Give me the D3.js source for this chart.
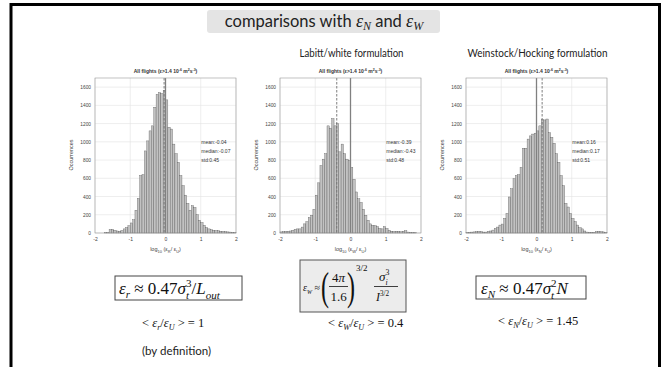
<!DOCTYPE html>
<html><head><meta charset="utf-8">
<script src="https://cdn.jsdelivr.net/npm/d3@7"></script>
<style>body{margin:0;background:#fff} text{white-space:pre}</style>
</head><body><svg id="c" width="669" height="367"></svg>
<script>
// ---- data ----
const binStart = -2;
const binWidth = 1 / 15;
const countsR = [0,0,0,0,2,5, 38,40,30, 22,20,28, 45,60,80, 110,145,250, 380,630,640, 900,1010,1120,
  1175,1380,1520, 1540,1530,1565, 1460,1160,1140, 975,870,775, 630,520,415, 325,250,300,
  280,200,140, 115,85,60, 45,35,30, 28,25,20, 18,15,12, 10,5,3];
const countsW = [12,15,18,20,22,30, 40,45,45, 65,100,125, 170,195,260, 415,550,740, 810,870,1175,
  1150,1255,1175, 1200,890,975, 870,810,795, 720,590,450, 375,335,260, 195,140,100, 85,80,70,
  50,45,70, 50,30,20, 18,20,18, 15,20,25, 10,5,3, 2,0,0];
const countsN = [5,8,10,12,15,18, 15,10,10, 18,22,32, 50,65,87, 98,160,215, 395,485,595, 630,640,720,
  930,930,1030, 1065,1085,1095, 1120,1175,1245, 1240,1250,1100, 1050,985,870, 775,630,520,
  325,285,215, 160,125,87, 58,45,22, 10,8,7, 7,15,18, 15,12,5];
const xTicks = [-2, -1, 0, 1, 2];
const yTicks = [0, 200, 400, 600, 800, 1000, 1200, 1400, 1600];
const means = [-0.04, -0.39, 0.16];
const statsR = ["mean:-0.04", "median:-0.07", "std:0.45"];
const statsW = ["mean:-0.39", "median:-0.43", "std:0.48"];
const statsN = ["mean:0.16", "median:0.17", "std:0.51"];
const subs = ["R", "W", "N"];
const headings = ["", "Labitt/white formulation", "Weinstock/Hocking formulation"];

// ---- drawing ----
const svg = d3.select("#c");
svg.append("rect").attr("width", 669).attr("height", 367).attr("fill", "#fff");
svg.append("path").attr("d", "M11,367 V4.5 H659.5 V367").attr("fill", "none")
  .attr("stroke", "#000").attr("stroke-width", 3);

svg.append("rect").attr("x", 207).attr("y", 10).attr("width", 233).attr("height", 23)
  .attr("rx", 3).attr("fill", "#e4e4e4");
const tt = svg.append("text").attr("x", 324).attr("y", 27).attr("text-anchor", "middle")
  .attr("font-family", "Lato, 'Open Sans', sans-serif").attr("font-size", 16.5).attr("fill", "#222");
tt.append("tspan").text("comparisons with ");
tt.append("tspan").attr("font-family", "'Liberation Serif', serif").attr("font-style", "italic").attr("font-size", 18).text("ε");
tt.append("tspan").attr("font-family", "'Liberation Serif', serif").attr("font-style", "italic").attr("font-size", 12).attr("dy", 3).text("N");
tt.append("tspan").attr("dy", -3).text(" and ");
tt.append("tspan").attr("font-family", "'Liberation Serif', serif").attr("font-style", "italic").attr("font-size", 18).text("ε");
tt.append("tspan").attr("font-family", "'Liberation Serif', serif").attr("font-style", "italic").attr("font-size", 12).attr("dy", 3).text("W");

const panels = [
  {left: 95, counts: countsR, stats: statsR},
  {left: 280, counts: countsW, stats: statsW},
  {left: 466, counts: countsN, stats: statsN}
];
const headW = [0, 104, 140];
const pw = 141, pTop = 78, pBot = 233;
const y = d3.scaleLinear().domain([0, 1700]).range([pBot, pTop]);
const AX = "Arial, 'Liberation Sans', sans-serif";

panels.forEach((p, i) => {
  const x = d3.scaleLinear().domain([-2, 2]).range([p.left, p.left + pw]);
  const g = svg.append("g").attr("font-family", AX);
  if (headings[i]) {
    g.append("text").attr("x", p.left + pw / 2 + 1 - headW[i] / 2).attr("y", 57)
      .attr("textLength", headW[i]).attr("lengthAdjust", "spacingAndGlyphs")
      .attr("font-family", "Lato, 'Open Sans', sans-serif").attr("font-size", 11).attr("fill", "#222").text(headings[i]);
  }
  const t = g.append("text").attr("x", p.left + pw / 2).attr("y", 73).attr("text-anchor", "middle")
    .attr("font-size", 5).attr("font-weight", "bold").attr("fill", "#333");
  t.append("tspan").text("All flights (ε>1.4 10");
  t.append("tspan").attr("dy", -2).attr("font-size", 3.5).text("-6");
  t.append("tspan").attr("dy", 2).text(" m");
  t.append("tspan").attr("dy", -2).attr("font-size", 3.5).text("2");
  t.append("tspan").attr("dy", 2).text("s");
  t.append("tspan").attr("dy", -2).attr("font-size", 3.5).text("-3");
  t.append("tspan").attr("dy", 2).text(")");
  g.selectAll(".gx").data(xTicks).enter().append("line")
    .attr("x1", d => x(d)).attr("x2", d => x(d)).attr("y1", pTop).attr("y2", pBot)
    .attr("stroke", "#e2e2e2").attr("stroke-width", 0.6);
  g.selectAll(".gy").data(yTicks).enter().append("line")
    .attr("x1", p.left).attr("x2", p.left + pw).attr("y1", d => y(d)).attr("y2", d => y(d))
    .attr("stroke", "#e2e2e2").attr("stroke-width", 0.6);
  g.selectAll(".bar").data(p.counts).enter().append("rect")
    .attr("x", (d, k) => x(binStart + k * binWidth))
    .attr("width", (d, k) => x(binStart + (k + 1) * binWidth) - x(binStart + k * binWidth))
    .attr("y", d => y(d)).attr("height", d => y(0) - y(d))
    .attr("fill", "#c2c2c2").attr("stroke", "#555").attr("stroke-width", 0.35);
  g.append("line").attr("x1", x(0)).attr("x2", x(0)).attr("y1", pTop).attr("y2", pBot)
    .attr("stroke", "#808080").attr("stroke-width", 1.3);
  g.append("line").attr("x1", x(means[i])).attr("x2", x(means[i])).attr("y1", pTop).attr("y2", pBot)
    .attr("stroke", "#707070").attr("stroke-width", 0.9).attr("stroke-dasharray", "2.5,1.5");
  g.append("rect").attr("x", p.left).attr("y", pTop).attr("width", pw).attr("height", pBot - pTop)
    .attr("fill", "none").attr("stroke", "#999").attr("stroke-width", 0.6);
  const xa = d3.axisBottom(x).tickValues(xTicks).tickSize(0).tickPadding(4).tickFormat(d => String(d));
  const ga = g.append("g").attr("transform", `translate(0,${pBot})`).call(xa).attr("font-family", AX);
  ga.select(".domain").remove();
  ga.selectAll("text").attr("font-size", 5).attr("fill", "#444");
  const ya = d3.axisLeft(y).tickValues(yTicks).tickSize(0).tickPadding(4).tickFormat(d => String(d));
  const gy = g.append("g").attr("transform", `translate(${p.left},0)`).call(ya).attr("font-family", AX);
  gy.select(".domain").remove();
  gy.selectAll("text").attr("font-size", 4.8).attr("fill", "#444");
  g.append("text").attr("transform", `translate(${p.left - 22},155) rotate(-90)`).attr("text-anchor", "middle")
    .attr("font-size", 5.5).attr("fill", "#444").text("Occurrences");
  const xl = g.append("text").attr("x", p.left + pw / 2).attr("y", 251).attr("text-anchor", "middle")
    .attr("font-size", 5.5).attr("fill", "#444");
  xl.append("tspan").text("log");
  xl.append("tspan").attr("dy", 1.5).attr("font-size", 4).text("10");
  xl.append("tspan").attr("dy", -1.5).text(" (ε");
  xl.append("tspan").attr("dy", 1.5).attr("font-size", 4).text(subs[i]);
  xl.append("tspan").attr("dy", -1.5).text("/ ε");
  xl.append("tspan").attr("dy", 1.5).attr("font-size", 4).text("U");
  xl.append("tspan").attr("dy", -1.5).text(")");
  g.selectAll(".st").data(p.stats).enter().append("text")
    .attr("x", x(1.0) + 0.5).attr("y", (d, k) => 143.5 + k * 9).attr("font-size", 5).attr("fill", "#333").text(d => d);
});

// ---- formulas ----
function rich(g, x, y0, base, pieces) {
  let cx = x, lastW = 0;
  pieces.forEach(p => {
    const s = base * (p.sc || 1);
    const el = g.append("text").attr("x", p.st ? cx - lastW : cx).attr("y", y0 + (p.dy || 0) * base)
      .attr("font-size", s).attr("font-style", p.it ? "italic" : "normal").text(p.t);
    const w = el.node().getComputedTextLength();
    if (p.st) { cx = Math.max(cx, cx - lastW + w); }
    else { cx += w; lastW = w; }
  });
  return cx;
}
const fg = svg.append("g").attr("font-family", "'Liberation Serif', 'DejaVu Serif', serif").attr("fill", "#111");
fg.append("rect").attr("x", 115).attr("y", 276).attr("width", 127).attr("height", 24)
  .attr("fill", "none").attr("stroke", "#444").attr("stroke-width", 1);
rich(fg, 119, 294, 17, [
  {t: "ε", it: 1}, {t: "r", it: 1, sc: .65, dy: .25}, {t: " ≈ 0.47"}, {t: "σ", it: 1},
  {t: "t", it: 1, sc: .65, dy: .28}, {t: "3", sc: .65, dy: -.4, st: 1}, {t: "/"}, {t: "L", it: 1},
  {t: "out", it: 1, sc: .65, dy: .28}]);

fg.append("rect").attr("x", 476).attr("y", 276).attr("width", 110).attr("height", 23)
  .attr("fill", "none").attr("stroke", "#444").attr("stroke-width", 1);
rich(fg, 481, 294, 17, [
  {t: "ε", it: 1}, {t: "N", it: 1, sc: .65, dy: .25}, {t: " ≈ 0.47"}, {t: "σ", it: 1},
  {t: "t", it: 1, sc: .65, dy: .28}, {t: "2", sc: .65, dy: -.4, st: 1}, {t: "N", it: 1}]);

fg.append("rect").attr("x", 300).attr("y", 260).attr("width", 106).attr("height", 52)
  .attr("fill", "#ececec").attr("stroke", "#555").attr("stroke-width", 1);
rich(fg, 303, 291, 10, [{t: "ε", it: 1}, {t: "W", it: 1, sc: .6, dy: .25}, {t: " ≈"}]);
fg.append("text").attr("transform", "translate(321,300) scale(0.6,1)").attr("font-size", 40).text("(");
fg.append("text").attr("transform", "translate(347,300) scale(0.6,1)").attr("font-size", 40).text(")");
fg.append("text").attr("x", 338.5).attr("y", 282).attr("text-anchor", "middle").attr("font-size", 13).text("4")
  .append("tspan").attr("font-style", "italic").text("π");
fg.append("line").attr("x1", 329).attr("x2", 348).attr("y1", 286.5).attr("y2", 286.5).attr("stroke", "#111").attr("stroke-width", 0.8);
fg.append("text").attr("x", 338.5).attr("y", 301).attr("text-anchor", "middle").attr("font-size", 13).text("1.6");
fg.append("text").attr("x", 356).attr("y", 271).attr("font-size", 9).text("3/2");
rich(fg, 379, 281, 13, [{t: "σ", it: 1}, {t: "i", it: 1, sc: .6, dy: .28}, {t: "3", sc: .6, dy: -.45, st: 1}]);
fg.append("line").attr("x1", 374).attr("x2", 398).attr("y1", 286.5).attr("y2", 286.5).attr("stroke", "#111").attr("stroke-width", 0.8);
rich(fg, 376, 301, 12, [{t: "I", it: 1}, {t: "3/2", sc: .6, dy: -.45}]);

rich(fg, 142, 327, 12.5, [{t: "< "}, {t: "ε", it: 1}, {t: "r", it: 1, sc: .65, dy: .25}, {t: "/"}, {t: "ε", it: 1},
  {t: "U", it: 1, sc: .65, dy: .25}, {t: " > = 1"}]);
rich(fg, 328, 327, 12.5, [{t: "< "}, {t: "ε", it: 1}, {t: "W", it: 1, sc: .65, dy: .25}, {t: "/"}, {t: "ε", it: 1},
  {t: "U", it: 1, sc: .65, dy: .25}, {t: " > = 0.4"}]);
rich(fg, 498, 325, 12.5, [{t: "< "}, {t: "ε", it: 1}, {t: "N", it: 1, sc: .65, dy: .25}, {t: "/"}, {t: "ε", it: 1},
  {t: "U", it: 1, sc: .65, dy: .25}, {t: " > = 1.45"}]);
svg.append("text").attr("x", 142).attr("y", 355).attr("font-family", "Lato, 'Open Sans', sans-serif")
  .attr("font-size", 11.5).attr("fill", "#222").text("(by definition)");
</script></body></html>
